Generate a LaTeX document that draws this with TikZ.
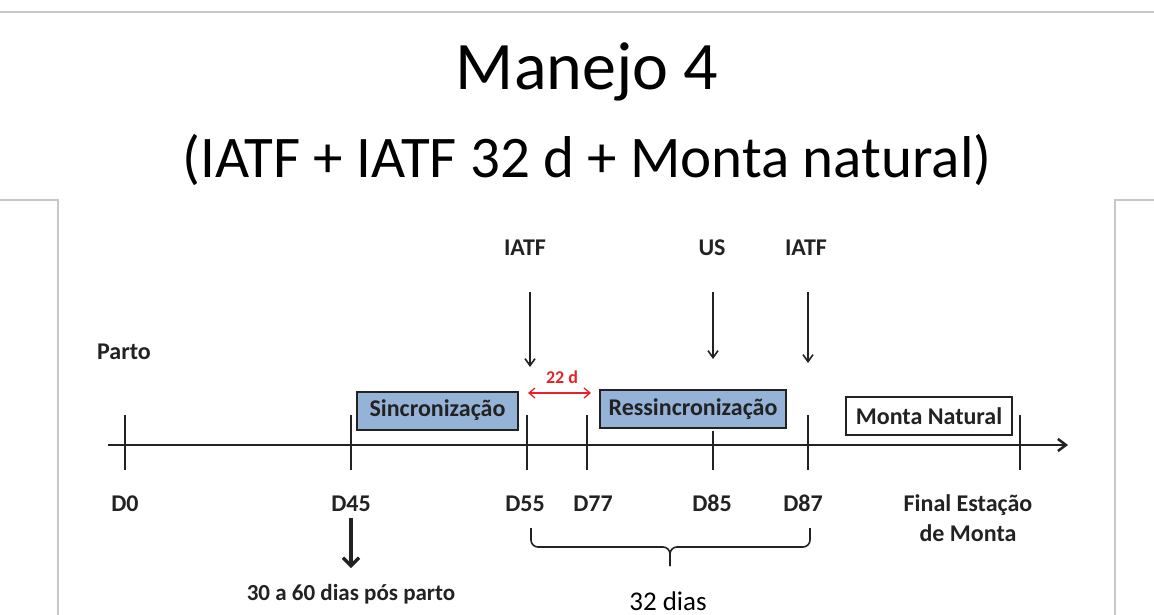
\documentclass[tikz,border=0pt]{standalone}
\usepackage{fontspec}
\setmainfont{Carlito}
\usetikzlibrary{arrows.meta}
\definecolor{boxblue}{HTML}{95B3D7}
\definecolor{ink}{HTML}{222222}
\definecolor{frameg}{HTML}{C8C8C8}
\definecolor{redd}{HTML}{E8202A}
\begin{document}
\begin{tikzpicture}[x=1pt,y=-1pt,
  lbl/.style={font=\fontsize{24}{26}\selectfont\bfseries, text=ink, inner sep=0pt, anchor=base},
  ticks/.style={draw=ink, line width=2.5pt},
  down/.style={draw=ink, line width=1.6pt, -{Straight Barb[length=7pt,width=10pt]}},
  phase/.style={draw=ink, line width=2pt, fill=boxblue, inner sep=0pt, minimum height=38pt,
    font=\fontsize{24}{26}\selectfont\bfseries, text=ink},
]
\useasboundingbox (0,0) rectangle (1154,615);
\fill[white] (0,0) rectangle (1154,615);
% slide frame
\draw[frameg, line width=1.2pt] (0,12) -- (1154,12);
\draw[frameg, line width=1.2pt] (0,200) -- (58,200) -- (58,615);
\draw[frameg, line width=1.2pt] (1154,200) -- (1115,200) -- (1115,615);
% titles
\node[font=\fontsize{68}{72}\selectfont, anchor=base, inner sep=0pt] (title) at (587,90) {Manejo 4};
\node[font=\fontsize{59}{62}\selectfont, anchor=base, inner sep=0pt] (sub) at (587,178) {(IATF + IATF 32 d + Monta natural)};
% axis
\coordinate (a0) at (108,445);
\coordinate (a1) at (1068,445);
\draw[ink, line width=2.5pt, -{Straight Barb[length=8pt,width=12pt]}] (a0) -- (a1);
% ticks
\foreach \n/\x in {t0/125, t45/351, t55/527, t77/587, t87/808, tf/1020}{
  \coordinate (\n top) at (\x,415);
  \coordinate (\n bot) at (\x,470);
  \draw[ticks] (\n top) -- (\n bot);
}
\coordinate (t85top) at (713,431);
\coordinate (t85bot) at (713,470);
\draw[ticks] (t85top) -- (t85bot);
% phase boxes
\node[phase, minimum width=161pt] (sinc) at (437.5,410.5) {Sincronização};
\node[phase, minimum width=186pt] (ressinc) at (693,409) {Ressincronização};
\node[phase, fill=white, minimum width=166pt] (monta) at (929,416) {Monta Natural};
% top labels and arrows
\node[lbl] (parto) at (124,359) {Parto};
\node[lbl] (iatf1) at (525,255) {IATF};
\node[lbl] (us) at (712,255) {US};
\node[lbl] (iatf2) at (806,255) {IATF};
\coordinate (i1s) at (530,292); \coordinate (i1e) at (530,367);
\coordinate (uss) at (713,292); \coordinate (use) at (713,359);
\coordinate (i2s) at (808,292); \coordinate (i2e) at (808,363);
\draw[down] (i1s) -- (i1e);
\draw[down] (uss) -- (use);
\draw[down] (i2s) -- (i2e);
% 22 d
\node[font=\fontsize{18}{20}\selectfont\bfseries, text=redd, anchor=base, inner sep=0pt] (d22) at (562,383) {22 d};
\coordinate (r0) at (528,393); \coordinate (r1) at (591,393);
\draw[redd, line width=1.3pt, {Straight Barb[length=6pt,width=10pt]}-{Straight Barb[length=6pt,width=10pt]}] (r0) -- (r1);
% bottom labels
\node[lbl] (D0) at (125,511) {D0};
\node[lbl] (D45) at (351,511) {D45};
\node[lbl] (D55) at (525,511) {D55};
\node[lbl] (D77) at (593,511) {D77};
\node[lbl] (D85) at (712,511) {D85};
\node[lbl] (D87) at (803,511) {D87};
\node[lbl] (fin1) at (968,511) {Final Estação};
\node[lbl] (fin2) at (968,541) {de Monta};
% D45 arrow
\coordinate (p0) at (351,518); \coordinate (p1) at (351,568);
\draw[ink, line width=3.2pt, -{Straight Barb[length=8pt,width=16pt]}] (p0) -- (p1);
\node[lbl, font=\fontsize{23}{25}\selectfont\bfseries] (pos) at (351,600) {30 a 60 dias pós parto};
% brace
\coordinate (b0) at (531,528);
\coordinate (b1) at (810,528);
\coordinate (bt) at (670,566);
\draw[ink, line width=1.6pt, rounded corners=7pt] (b0) -- (531,547) -- (670,547) -- (bt);
\draw[ink, line width=1.6pt, rounded corners=7pt] (bt) -- (670,547) -- (810,547) -- (b1);
\node[font=\fontsize{27}{30}\selectfont, anchor=base, inner sep=0pt] (dias) at (668,610) {32 dias};
\end{tikzpicture}
\end{document}
